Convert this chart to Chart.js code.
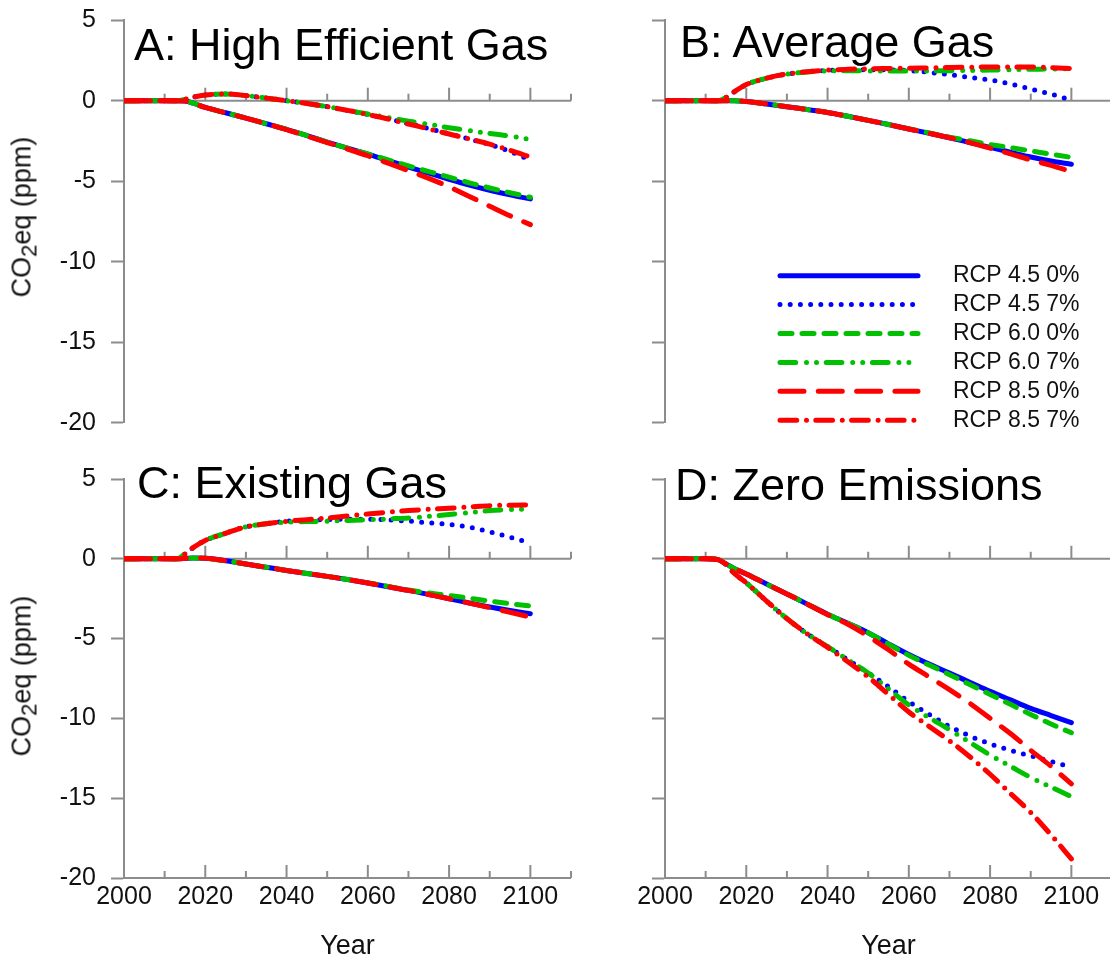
<!DOCTYPE html>
<html>
<head>
<meta charset="utf-8">
<script src="https://cdn.jsdelivr.net/npm/chart.js@4.4.1/dist/chart.umd.min.js"></script>
<style>
  body { margin: 0; background: #fff; overflow: hidden; }
  #wrap { position: relative; width: 1110px; height: 971px; overflow: hidden; font-family: 'Liberation Sans', Arial, sans-serif; }
  canvas { position: absolute; left: 0; top: 0; }
  .ttl { position: absolute; font-size: 45px; line-height: 45px; color: #000; white-space: nowrap; }
  .ylab { position: absolute; font-size: 27px; line-height: 27px; color: #111; white-space: nowrap; transform: translate(-50%, -50%) rotate(-90deg); }
  .ylab sub { font-size: 0.82em; vertical-align: -0.25em; line-height: 0; }
</style>
</head>
<body>
<div id="wrap">
  <canvas id="panelA" width="1120" height="971"></canvas>
  <canvas id="panelB" width="1120" height="971"></canvas>
  <canvas id="panelC" width="1120" height="971"></canvas>
  <canvas id="panelD" width="1120" height="971"></canvas>
  <div class="ttl" style="left:134px; top:22px">A: High Efficient Gas</div>
  <div class="ttl" style="left:680px; top:19px">B: Average Gas</div>
  <div class="ttl" style="left:137px; top:460px">C: Existing Gas</div>
  <div class="ttl" style="left:675px; top:462px">D: Zero Emissions</div>
  <div class="ylab" style="left:22px; top:217px">CO<sub>2</sub>eq (ppm)</div>
  <div class="ylab" style="left:22px; top:676px">CO<sub>2</sub>eq (ppm)</div>
</div>
<script>
// years sampled from the figure
const years = [2000, 2010, 2013, 2015, 2017, 2020, 2025, 2030, 2035, 2040, 2045, 2050, 2055, 2060, 2065, 2070, 2075, 2080, 2085, 2090, 2095, 2100];
const seriesNames = ['RCP 4.5 0%', 'RCP 4.5 7%', 'RCP 6.0 0%', 'RCP 6.0 7%', 'RCP 8.5 0%', 'RCP 8.5 7%'];
const yTickStep = 5;

// A: High Efficient Gas
const hi45_0 = [0, 0, 0, -0.02, -0.15, -0.42, -0.75, -1.08, -1.43, -1.78, -2.17, -2.57, -2.95, -3.32, -3.72, -4.12, -4.5, -4.88, -5.24, -5.56, -5.85, -6.1];
const hi45_7 = [0, 0, 0, 0.08, 0.22, 0.35, 0.42, 0.32, 0.16, 0.0, -0.17, -0.37, -0.6, -0.85, -1.12, -1.42, -1.73, -2.06, -2.38, -2.72, -3.15, -3.7];
const hi60_0 = [0, 0, 0, -0.02, -0.15, -0.42, -0.75, -1.08, -1.43, -1.78, -2.17, -2.57, -2.95, -3.3, -3.68, -4.05, -4.4, -4.75, -5.1, -5.42, -5.72, -6.0];
const hi60_7 = [0, 0, 0, 0.08, 0.22, 0.35, 0.42, 0.32, 0.16, 0.0, -0.17, -0.37, -0.6, -0.83, -1.05, -1.27, -1.47, -1.68, -1.86, -2.03, -2.2, -2.4];
const hi85_0 = [0, 0, 0, -0.02, -0.15, -0.42, -0.75, -1.08, -1.43, -1.8, -2.2, -2.6, -3.0, -3.42, -3.88, -4.35, -4.82, -5.35, -5.95, -6.55, -7.15, -7.7];
const hi85_7 = [0, 0, 0, 0.08, 0.22, 0.35, 0.42, 0.32, 0.16, 0.0, -0.17, -0.37, -0.6, -0.86, -1.14, -1.45, -1.75, -2.07, -2.38, -2.7, -3.08, -3.5];

// B: Average Gas
const avg45_0 = [0, 0, 0, 0, 0, -0.05, -0.2, -0.37, -0.55, -0.73, -0.97, -1.22, -1.48, -1.76, -2.02, -2.3, -2.6, -2.9, -3.2, -3.5, -3.75, -3.95];
const avg45_7 = [0, 0, 0, 0.2, 0.55, 1.0, 1.4, 1.65, 1.8, 1.88, 1.92, 1.93, 1.91, 1.87, 1.76, 1.62, 1.45, 1.29, 1.04, 0.73, 0.41, 0.04];
const avg60_0 = [0, 0, 0, 0, 0, -0.05, -0.2, -0.37, -0.55, -0.73, -0.97, -1.22, -1.48, -1.75, -2.0, -2.26, -2.49, -2.72, -2.92, -3.12, -3.32, -3.52];
const avg60_7 = [0, 0, 0, 0.2, 0.55, 1.0, 1.4, 1.65, 1.78, 1.85, 1.86, 1.85, 1.84, 1.84, 1.85, 1.86, 1.88, 1.9, 1.92, 1.95, 1.97, 2.0];
const avg85_0 = [0, 0, 0, 0, 0, -0.05, -0.2, -0.37, -0.55, -0.73, -0.97, -1.22, -1.48, -1.76, -2.02, -2.3, -2.6, -2.95, -3.3, -3.68, -4.02, -4.4];
const avg85_7 = [0, 0, 0, 0.2, 0.55, 1.0, 1.4, 1.66, 1.8, 1.9, 1.95, 1.98, 2.0, 2.02, 2.04, 2.06, 2.08, 2.1, 2.1, 2.1, 2.05, 2.0];

// C: Existing Gas
const ex45_0 = [0, 0, 0, 0.02, 0.05, 0.03, -0.12, -0.33, -0.53, -0.73, -0.92, -1.1, -1.3, -1.52, -1.75, -1.98, -2.24, -2.5, -2.77, -3.02, -3.24, -3.44];
const ex45_7 = [0, 0, 0, 0.3, 0.7, 1.15, 1.6, 2.0, 2.2, 2.35, 2.42, 2.46, 2.48, 2.48, 2.44, 2.36, 2.26, 2.15, 1.98, 1.68, 1.35, 0.98];
const ex60_0 = [0, 0, 0, 0.02, 0.05, 0.03, -0.12, -0.33, -0.53, -0.73, -0.92, -1.1, -1.3, -1.51, -1.73, -1.96, -2.14, -2.3, -2.47, -2.65, -2.81, -2.96];
const ex60_7 = [0, 0, 0, 0.3, 0.7, 1.15, 1.6, 2.0, 2.2, 2.3, 2.33, 2.36, 2.4, 2.44, 2.5, 2.56, 2.66, 2.77, 2.9, 3.02, 3.08, 3.12];
const ex85_0 = [0, 0, 0, 0.02, 0.05, 0.03, -0.12, -0.33, -0.53, -0.73, -0.92, -1.1, -1.3, -1.52, -1.75, -1.98, -2.24, -2.5, -2.78, -3.06, -3.35, -3.65];
const ex85_7 = [0, 0, 0, 0.3, 0.7, 1.15, 1.6, 2.0, 2.2, 2.35, 2.45, 2.56, 2.68, 2.81, 2.92, 3.02, 3.1, 3.17, 3.25, 3.33, 3.36, 3.38];

// D: Zero Emissions
const zero45_0 = [0, 0, -0.05, -0.32, -0.6, -0.95, -1.58, -2.2, -2.84, -3.47, -4.04, -4.63, -5.33, -6.0, -6.6, -7.16, -7.73, -8.3, -8.84, -9.37, -9.82, -10.27];
const zero45_7 = [0, 0, -0.05, -0.35, -0.9, -1.5, -2.65, -3.75, -4.7, -5.5, -6.33, -7.15, -8.02, -8.95, -9.75, -10.5, -11.1, -11.6, -12.0, -12.35, -12.7, -13.05];
const zero60_0 = [0, 0, -0.05, -0.32, -0.6, -0.95, -1.58, -2.2, -2.84, -3.47, -4.04, -4.63, -5.35, -6.05, -6.66, -7.26, -7.88, -8.5, -9.12, -9.75, -10.35, -10.9];
const zero60_7 = [0, 0, -0.05, -0.35, -0.9, -1.5, -2.65, -3.75, -4.7, -5.5, -6.33, -7.15, -8.15, -9.16, -9.95, -10.7, -11.5, -12.3, -13.0, -13.7, -14.3, -14.9];
const zero85_0 = [0, 0, -0.05, -0.32, -0.6, -0.95, -1.58, -2.2, -2.84, -3.5, -4.1, -4.85, -5.7, -6.6, -7.4, -8.2, -9.05, -10.0, -10.95, -12.0, -13.0, -14.1];
const zero85_7 = [0, 0, -0.05, -0.35, -0.9, -1.5, -2.65, -3.75, -4.7, -5.55, -6.45, -7.4, -8.5, -9.6, -10.5, -11.4, -12.4, -13.5, -14.7, -15.9, -17.3, -18.8];

const lineColors = ['#0000ff', '#0000ff', '#00c000', '#00c000', '#ff0000', '#ff0000'];
const lineDashes = [[], [0, 10.2], [12, 10], [15.7, 10.8, 0, 10, 0, 9.7], [24, 14.3], [16.7, 9.8, 0, 9.3]];
const axisGray = '#8c8c8c';

Chart.defaults.font.family = "'Liberation Sans', Arial, sans-serif";
Chart.defaults.color = '#111';

// zero line + bottom axis with decade ticks pointing up
const decadeAxes = {
  id: 'decadeAxes',
  beforeDatasetsDraw(chart, args, opts) {
    const {ctx, scales: {x, y}} = chart;
    const xa = x.getPixelForValue(x.min), xb = x.getPixelForValue(x.max);
    ctx.save();
    ctx.strokeStyle = axisGray;
    ctx.lineWidth = 2;
    opts.rows.forEach(v => {
      const py = y.getPixelForValue(v);
      ctx.beginPath();
      ctx.moveTo(xa, py);
      ctx.lineTo(xb, py);
      ctx.stroke();
      x.ticks.forEach(t => {
        const px = x.getPixelForValue(t.value);
        const len = t.value % 20 === 0 ? 13 : 7;
        ctx.beginPath();
        ctx.moveTo(px, py);
        ctx.lineTo(px, py - len);
        ctx.stroke();
      });
    });
    ctx.restore();
  }
};

// legend drawn from the datasets (only panel B)
const lineLegend = {
  id: 'lineLegend',
  afterDatasetsDraw(chart, args, opts) {
    if (!opts.show) return;
    const ctx = chart.ctx;
    chart.data.datasets.forEach((ds, i) => {
      const yy = opts.top + i * opts.step;
      ctx.save();
      ctx.strokeStyle = ds.borderColor;
      ctx.lineWidth = ds.borderWidth;
      ctx.lineCap = 'round';
      ctx.setLineDash(ds.borderDash);
      ctx.beginPath();
      ctx.moveTo(opts.x0, yy);
      ctx.lineTo(opts.x1, yy);
      ctx.stroke();
      ctx.setLineDash([]);
      ctx.fillStyle = '#111';
      ctx.font = "23px 'Liberation Sans', Arial, sans-serif";
      ctx.textBaseline = 'middle';
      ctx.fillText(ds.label, opts.tx, yy);
      ctx.restore();
    });
  }
};

function makePanel(id, series, box, showY, showX, legend) {
  const yw = 100;
  const xh = showX ? 85 : 0;
  const datasets = series.map((vals, i) => ({
    label: seriesNames[i],
    data: years.map((yr, k) => ({x: yr, y: vals[k]})),
    borderColor: lineColors[i],
    borderDash: lineDashes[i],
    borderWidth: 5,
    borderCapStyle: 'round',
    borderJoinStyle: 'round',
    pointRadius: 0,
    cubicInterpolationMode: 'monotone',
    order: 6 - i
  }));
  return new Chart(document.getElementById(id), {
    type: 'line',
    data: {datasets},
    plugins: [decadeAxes, lineLegend],
    options: {
      responsive: false,
      animation: false,
      layout: {
        autoPadding: false,
        padding: {left: box.left - yw, top: box.top, right: 1120 - box.right, bottom: 971 - box.bottom - xh}
      },
      scales: {
        x: {
          type: 'linear',
          min: 2000,
          max: 2110,
          afterFit: s => { s.height = xh; s.paddingLeft = 0; s.paddingRight = 0; },
          grid: {display: false, drawTicks: false},
          border: {display: false},
          ticks: {
            display: showX, stepSize: 10, autoSkip: false, maxRotation: 0, padding: 4,
            font: {size: 25},
            callback: v => (v % 20 === 0 && v <= 2100) ? String(v) : ''
          },
          title: {display: showX, text: 'Year', font: {size: 27}, padding: 0}
        },
        y: {
          min: -20,
          max: 5,
          afterFit: s => { s.width = yw; s.paddingTop = 0; s.paddingBottom = 0; },
          grid: {drawOnChartArea: false, drawTicks: true, tickLength: 13, tickColor: axisGray, tickWidth: 2},
          border: {display: true, color: axisGray, width: 2},
          ticks: {display: showY, stepSize: yTickStep, padding: 15, font: {size: 25}}
        }
      },
      plugins: {
        legend: {display: false},
        tooltip: {enabled: false},
        decadeAxes: {rows: showX ? [0, -20] : [0]},
        lineLegend: legend || {show: false}
      }
    }
  });
}

makePanel('panelA', [hi45_0, hi45_7, hi60_0, hi60_7, hi85_0, hi85_7],
  {left: 124, top: 20.2, right: 571, bottom: 422.7}, true, false);
makePanel('panelB', [avg45_0, avg45_7, avg60_0, avg60_7, avg85_0, avg85_7],
  {left: 665, top: 20.2, right: 1112, bottom: 422.7}, false, false,
  {show: true, x0: 780, x1: 918, tx: 953, top: 275.7, step: 28.9});
makePanel('panelC', [ex45_0, ex45_7, ex60_0, ex60_7, ex85_0, ex85_7],
  {left: 124, top: 479, right: 571, bottom: 878}, true, true);
makePanel('panelD', [zero45_0, zero45_7, zero60_0, zero60_7, zero85_0, zero85_7],
  {left: 665, top: 479, right: 1112, bottom: 878}, false, true);
</script>
</body>
</html>
